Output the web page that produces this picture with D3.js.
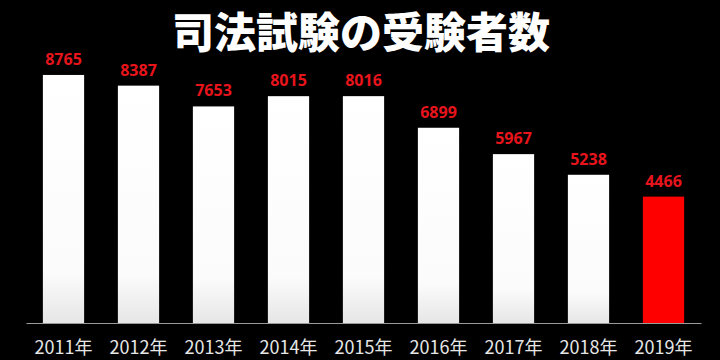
<!DOCTYPE html>
<html><head><meta charset="utf-8">
<script src="https://cdn.jsdelivr.net/npm/d3@7"></script>
<style>html,body{margin:0;padding:0;background:#000;}svg{display:block;}</style>
</head><body>
<script>
const years = ["2011年","2012年","2013年","2014年","2015年","2016年","2017年","2018年","2019年"];
const examinees = [8765, 8387, 7653, 8015, 8016, 6899, 5967, 5238, 4466];
const highlightYear = "2019年";
const titleText = "司法試験の受験者数";

const W = 720, H = 360;
const svg = d3.select("body").append("svg").attr("width", W).attr("height", H);
svg.append("rect").attr("width", W).attr("height", H).attr("fill", "#000");

const defs = svg.append("defs");
const g = defs.append("linearGradient").attr("id","barg").attr("x1",0).attr("y1",0).attr("x2",0).attr("y2",1);
g.append("stop").attr("offset","0%").attr("stop-color","#ffffff");
g.append("stop").attr("offset","80%").attr("stop-color","#fbfbfb");
g.append("stop").attr("offset","100%").attr("stop-color","#e6e6e6");

const x = d3.scaleBand().domain(years).range([26, 701]).paddingInner(0.45).paddingOuter(0.225);
const y = d3.scaleLinear().domain([0, 10000]).range([323, 40]);

svg.append("text").attr("x", 361).attr("y", 48).attr("text-anchor","middle")
  .attr("font-family","'Noto Sans CJK JP', sans-serif").attr("font-weight",900)
  .attr("font-size", 42).attr("fill","#fff").text(titleText);

const data = years.map((yr,i)=>({yr, v: examinees[i]}));

svg.selectAll("rect.bar").data(data).join("rect").attr("class","bar")
  .attr("x", d=>x(d.yr)).attr("width", x.bandwidth())
  .attr("y", d=>y(d.v)).attr("height", d=>y(0)-y(d.v))
  .attr("fill", d=> d.yr===highlightYear ? "#ff0000" : "url(#barg)");

svg.selectAll("text.val").data(data).join("text").attr("class","val")
  .attr("x", d=>x(d.yr)+x.bandwidth()/2).attr("y", d=>y(d.v)-10)
  .attr("text-anchor","middle").attr("font-family","'Open Sans', 'Noto Sans', sans-serif")
  .attr("font-weight",700).attr("font-size",16).attr("fill","#e8141c").text(d=>d.v);

const axis = d3.axisBottom(x).tickSize(0).tickPadding(18);
const ax = svg.append("g").attr("transform",`translate(0,${y(0)})`).call(axis);
ax.select(".domain").attr("stroke","#9a9a9a").attr("stroke-width",1.2);
ax.selectAll("text").attr("font-family","'Noto Sans CJK JP', sans-serif").attr("font-size",18)
  .attr("fill","#e6e6e6");
</script>
</body></html>
